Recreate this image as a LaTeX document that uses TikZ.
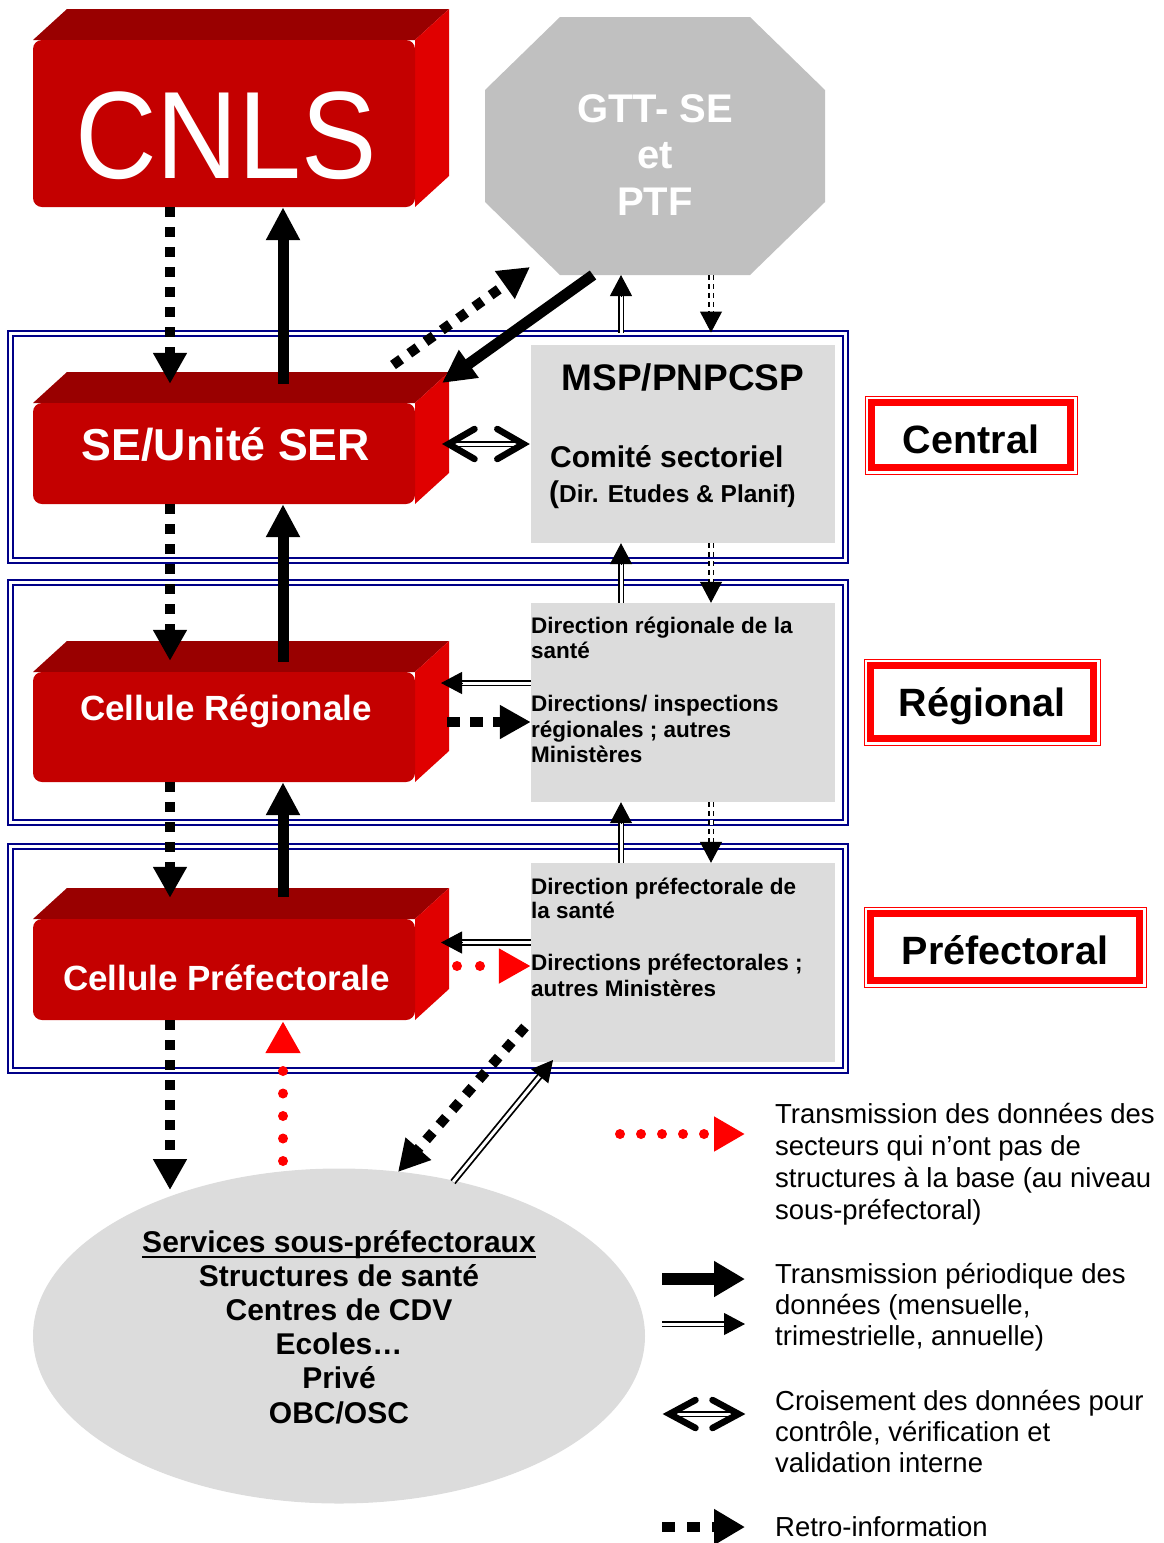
\documentclass[tikz,border=0pt]{standalone}
\usepackage{fontspec}
\setmainfont{Liberation Sans}
\usetikzlibrary{arrows.meta,calc,shapes.geometric,fit}
\definecolor{rfront}{HTML}{C40000}
\definecolor{rtop}{HTML}{990000}
\definecolor{rside}{HTML}{E00000}
\definecolor{octgray}{HTML}{C0C0C0}
\definecolor{boxgray}{HTML}{DCDCDC}
\definecolor{navyblue}{HTML}{000088}
\definecolor{myred}{HTML}{FF0000}
\newcommand\myul[1]{\setbox0\hbox{#1}\rlap{\rule[-6.2pt]{\wd0}{2.4pt}}\box0}
% 3D red box: name, front top y, front bottom y
\newcommand\redbox[3]{%
  \fill[redtop] (33,#2) -- (67,#2-31) -- (449,#2-31) -- (415,#2) -- cycle;
  \fill[redside] (415,#2) -- (449,#2-31) -- (449,#3-31) -- (415,#3) -- cycle;
  \coordinate (#1nw) at (33,#2);
  \coordinate (#1se) at (415,#3);
  \node[redfront, fit=(#1nw)(#1se)] (#1) {};
}
% double-line arrow: [extra], from, to
\newcommand\dblarr[3][]{%
  \draw[dblline,#1] (#2) -- ($(#3)!20pt!(#2)$);
  \draw[thinhead] ($(#3)!21pt!(#2)$) -- (#3);
}
\begin{document}
\begin{tikzpicture}[x=1pt,y=-1pt,
  redfront/.style={fill=rfront, rounded corners=9pt, inner sep=0pt},
  redtop/.style={fill=rtop},
  redside/.style={fill=rside},
  frame/.style={draw=navyblue, line width=2pt, double=white, double distance=3pt, inner sep=0pt},
  graybox/.style={fill=boxgray, inner sep=0pt},
  lvl/.style={draw=myred, line width=1pt, inner sep=0pt},
  lvltxt/.style={anchor=base, inner sep=0pt, font=\fontsize{39.5}{44}\selectfont\bfseries},
  wtxt/.style={anchor=base, inner sep=0pt, text=white},
  btxt/.style={anchor=base west, inner sep=0pt, font=\fontsize{22.5}{26}\selectfont\bfseries},
  etxt/.style={anchor=base, inner sep=0pt, font=\fontsize{30}{34}\selectfont\bfseries},
  legtxt/.style={anchor=base west, inner sep=0pt, font=\fontsize{27.5}{32}\selectfont},
  retro/.style={line width=10pt, dash pattern=on 10pt off 10pt, -{Triangle[length=31pt,width=32pt]}},
  solidarr/.style={line width=11pt, -{Triangle[length=33pt,width=32pt]}},
  reddots/.style={draw=myred, line width=10pt, line cap=round, dash pattern=on 0pt off 22.5pt, -{Triangle[length=32pt,width=33pt]}},
  dblline/.style={line width=1.8pt, double=white, double distance=3pt},
  thinhead/.style={line width=1pt, -{Triangle[length=21pt,width=22pt]}},
  chev/.style={line width=6.5pt, line cap=round, line join=miter}
]
\useasboundingbox (0,0) rectangle (1163,1543);

% ---- level frames
\node[frame, minimum width=835pt, minimum height=226.5pt] (fc) at (428,446.75) {};
\node[frame, minimum width=835pt, minimum height=240pt] (fr) at (428,702) {};
\node[frame, minimum width=835pt, minimum height=224pt] (fp) at (428,958) {};

% ---- gray boxes
\node[graybox, minimum width=304pt, minimum height=198pt] (msp) at (683,444) {};
\node[graybox, minimum width=304pt, minimum height=199pt] (reg) at (683,702.5) {};
\node[graybox, minimum width=304pt, minimum height=199pt] (pref) at (683,962.5) {};

\node[anchor=base, inner sep=0pt, font=\fontsize{37}{44}\selectfont\bfseries] (msp1) at (683,390) {MSP/PNPCSP};
\node[anchor=base west, inner sep=0pt, font=\fontsize{30}{34}\selectfont\bfseries] (msp2) at (550,467) {Comité sectoriel};
\node[anchor=base west, inner sep=0pt, font=\fontsize{24.5}{28}\selectfont\bfseries] (msp3) at (549,502) {{\fontsize{30}{34}\selectfont(}Dir. Etudes \& Planif)};

\node[btxt] (reg1) at (531,633) {Direction régionale de la};
\node[btxt] (reg2) at (531,658) {santé};
\node[btxt] (reg3) at (531,711) {Directions/ inspections};
\node[btxt] (reg4) at (531,737) {régionales ; autres};
\node[btxt] (reg5) at (531,762) {Ministères};

\node[btxt] (pref1) at (531,894) {Direction préfectorale de};
\node[btxt] (pref2) at (531,918) {la santé};
\node[btxt] (pref3) at (531,970) {Directions préfectorales ;};
\node[btxt] (pref4) at (531,996) {autres Ministères};

% ---- red 3D boxes
\redbox{cnls}{40}{207}
\redbox{se}{403}{504}
\redbox{cr}{672}{782}
\redbox{cp}{919}{1020}
\node[wtxt, font=\fontsize{113}{120}\selectfont] (cnlst) at (226,178) {\scalebox{1}[1.1]{CNLS}};
\node[wtxt, font=\fontsize{44.7}{50}\selectfont\bfseries] (set) at (226,460) {SE/Unité SER};
\node[wtxt, font=\fontsize{35}{40}\selectfont\bfseries] (crt) at (226,720) {Cellule Régionale};
\node[wtxt, font=\fontsize{35}{40}\selectfont\bfseries] (cpt) at (226.5,990) {Cellule Préfectorale};

% ---- octagon
\fill[octgray] (560,17) -- (750,17) -- (825,90) -- (825,202) -- (750,275) -- (560,275) -- (485,202) -- (485,90) -- cycle;
\coordinate (gttB) at (655,275);
\node[wtxt, font=\fontsize{40}{47}\selectfont\bfseries] (gtt1) at (655,122) {GTT- SE};
\node[wtxt, font=\fontsize{40}{47}\selectfont\bfseries] (gtt2) at (655,168) {et};
\node[wtxt, font=\fontsize{40}{47}\selectfont\bfseries] (gtt3) at (655,215) {PTF};

% ---- ellipse
\node[ellipse, fill=boxgray, minimum width=612pt, minimum height=335pt, inner sep=0pt] (ell) at (339,1336) {};
\node[etxt] (e1) at (339,1252) {\myul{Services sous-préfectoraux}};
\node[etxt] (e2) at (339,1286.2) {Structures de santé};
\node[etxt] (e3) at (339,1320.4) {Centres de CDV};
\node[etxt] (e4) at (339,1354.6) {Ecoles…};
\node[etxt] (e5) at (339,1388.8) {Privé};
\node[etxt] (e6) at (339,1423) {OBC/OSC};

% ---- level labels
\node[lvl, minimum width=212pt, minimum height=78pt] (central) at (971,435) {};
\draw[myred, line width=7pt] ($(central.north west)+(7,7)$) rectangle ($(central.south east)+(-7,-7)$);
\node[lvltxt] (centralt) at (971,453) {Central};
\node[lvl, minimum width=236pt, minimum height=86pt] (regional) at (982,702) {};
\draw[myred, line width=7pt] ($(regional.north west)+(7,7)$) rectangle ($(regional.south east)+(-7,-7)$);
\node[lvltxt] (regionalt) at (982,716) {Régional};
\node[lvl, minimum width=282pt, minimum height=80pt] (prefectoral) at (1005,947) {};
\draw[myred, line width=7pt] ($(prefectoral.north west)+(7,7)$) rectangle ($(prefectoral.south east)+(-7,-7)$);
\node[lvltxt] (prefectoralt) at (1005,964) {Préfectoral};

% ---- connector helper coordinates
\coordinate (xL) at (170,0);
\coordinate (xR) at (283,0);
\coordinate (xU) at (621,0);
\coordinate (xD) at (711,0);
\coordinate (ellA) at (170,1190);
\coordinate (ellB) at (283,1161);
\coordinate (ellC) at (453,1182);
\coordinate (ellD) at (398,1172);
\coordinate (gttS) at (593,275);
\coordinate (gttD) at (530,267);
\coordinate (seTR) at (442,383);
\coordinate (seD) at (393,365);
\coordinate (prefC) at (553,1060);
\coordinate (prefD) at (525,1027);

% ---- vertical main arrows
\draw[retro] (cnls.south -| xL) -- ($(se.north -| xL)+(0,-19)$);
\draw[solidarr] ($(se.north -| xR)+(0,-19)$) -- (cnls.south -| xR);
\draw[retro] (se.south -| xL) -- ($(cr.north -| xL)+(0,-11)$);
\draw[solidarr] ($(cr.north -| xR)+(0,-10)$) -- (se.south -| xR);
\draw[retro] (cr.south -| xL) -- ($(cp.north -| xL)+(0,-21)$);
\draw[solidarr] ($(cp.north -| xR)+(0,-22)$) -- (cr.south -| xR);
\draw[retro] (cp.south -| xL) -- (ellA);
\draw[reddots] (ellB) -- ($(cp.south -| xR)+(0,1)$);

% ---- GTT arrows
\draw[solidarr] (gttS) -- (seTR);
\draw[retro] (seD) -- (gttD);
\dblarr{fc.north -| xU}{gttB -| xU}
\dblarr[dash pattern=on 5pt off 4pt]{gttB -| xD}{fc.north -| xD}

% ---- between gray boxes
\dblarr{reg.north -| xU}{msp.south -| xU}
\dblarr[dash pattern=on 5pt off 4pt]{msp.south -| xD}{reg.north -| xD}
\dblarr{pref.north -| xU}{reg.south -| xU}
\dblarr[dash pattern=on 5pt off 4pt]{reg.south -| xD}{pref.north -| xD}

% ---- horizontal arrows
\coordinate (hL) at (448.5,444);
\coordinate (hR) at ($(msp.west)+(-7.5,0)$);
\draw[dblline] ($(hL)+(2,0)$) -- ($(hR)+(-2,0)$);
\draw[chev] ($(hL)+(26,-15)$) -- (hL) -- ($(hL)+(26,15)$);
\draw[chev] ($(hR)+(-26,-15)$) -- (hR) -- ($(hR)+(-26,15)$);

\dblarr{reg.west |- 0,683}{441,683}
\draw[retro, dash pattern=on 13pt off 10pt] (447,722) -- (reg.west |- 0,722);
\dblarr{pref.west |- 0,942.5}{441,942.5}
\draw[reddots, dash pattern=on 0pt off 23pt] (457,966) -- (pref.west |- 0,966);

% ---- bottom diagonals
\draw[retro] (prefD) -- (ellD);
\dblarr{ellC}{prefC}

% ---- legend
\coordinate (l1a) at (620,1134); \coordinate (l1b) at (745,1134);
\draw[reddots, dash pattern=on 0pt off 21pt, -{Triangle[length=31pt,width=33pt]}] (l1a) -- (l1b);
\coordinate (l2a) at (662,1279); \coordinate (l2b) at (745,1279);
\draw[solidarr, line width=12pt, -{Triangle[length=31pt,width=34pt]}] (l2a) -- (l2b);
\coordinate (l3a) at (662,1324); \coordinate (l3b) at (745,1324);
\dblarr{l3a}{l3b}
\coordinate (l4a) at (669.5,1414); \coordinate (l4b) at (738.5,1414);
\draw[dblline] ($(l4a)+(2,0)$) -- ($(l4b)+(-2,0)$);
\draw[chev] ($(l4a)+(26,-14)$) -- (l4a) -- ($(l4a)+(26,14)$);
\draw[chev] ($(l4b)+(-26,-14)$) -- (l4b) -- ($(l4b)+(-26,14)$);
\coordinate (l5a) at (662,1527); \coordinate (l5b) at (745,1527);
\draw[retro, dash pattern=on 13pt off 12pt, -{Triangle[length=31pt,width=34pt]}] (l5a) -- (l5b);

\node[legtxt] (lt1) at (775,1123) {Transmission des données des};
\node[legtxt] (lt2) at (775,1155) {secteurs qui n’ont pas de};
\node[legtxt] (lt3) at (775,1187) {structures à la base (au niveau};
\node[legtxt] (lt4) at (775,1219) {sous-préfectoral)};
\node[legtxt] (lt5) at (775,1283) {Transmission périodique des};
\node[legtxt] (lt6) at (775,1314) {données (mensuelle,};
\node[legtxt] (lt7) at (775,1345) {trimestrielle, annuelle)};
\node[legtxt] (lt8) at (775,1410) {Croisement des données pour};
\node[legtxt] (lt9) at (775,1441) {contrôle, vérification et};
\node[legtxt] (lt10) at (775,1472) {validation interne};
\node[legtxt] (lt11) at (775,1536) {Retro-information};
\end{tikzpicture}
\end{document}
